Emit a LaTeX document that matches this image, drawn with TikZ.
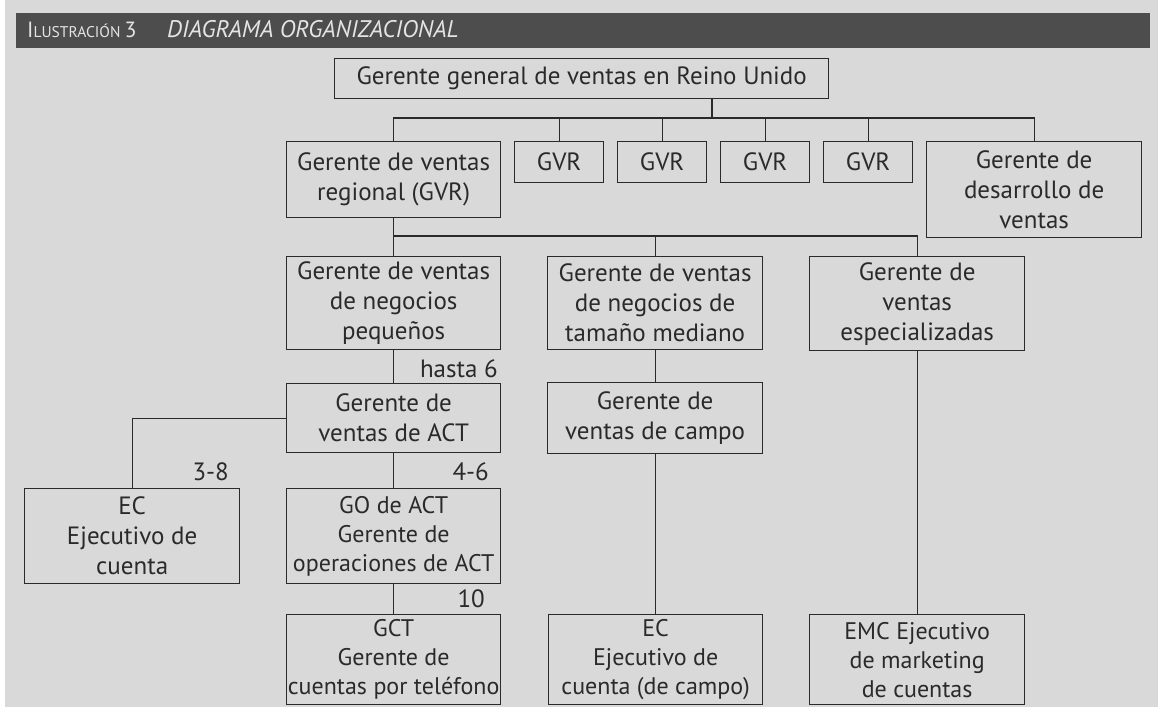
\documentclass[tikz,border=0pt]{standalone}
\usepackage{fontspec}
\setmainfont{PT Sans}
\definecolor{bg}{HTML}{D9D9D9}
\definecolor{bar}{HTML}{4D4D4D}
\definecolor{ink}{HTML}{2A2A2A}
\definecolor{barink}{HTML}{E4E4E4}
\tikzset{
  box/.style={draw=ink, line width=1.3pt, anchor=north west, inner sep=0pt,
    align=center, text=ink, font=\fontsize{25}{30}\selectfont},
  lowbox/.style={box, font=\fontsize{24}{29}\selectfont},
  conn/.style={draw=ink, line width=1.3pt},
  lbl/.style={anchor=base east, inner sep=0pt, text=ink, font=\fontsize{25}{30}\selectfont},
}
\begin{document}
\begin{tikzpicture}[x=1pt,y=-1pt]
\useasboundingbox (0,0) rectangle (1158,707);
\fill[white] (0,0) rectangle (1158,707);
\fill[bg] (5,0) rectangle (1158,707);
\fill[bar] (16,13) rectangle (1150,48);
\node[anchor=base west, inner sep=0pt, text=barink] (hdr) at (27,37)
  {\fontsize{22}{24}\selectfont I\fontsize{15.5}{20}\selectfont LUSTRACIÓN \fontsize{22}{24}\selectfont 3};
\node[anchor=base west, inner sep=0pt, text=barink] (hdr2) at (167,37)
  {\fontsize{24}{26}\selectfont\itshape DIAGRAMA ORGANIZACIONAL};

% level 0
\node[box, minimum width=494, minimum height=40] (top) at (334,58) {Gerente general de ventas en Reino Unido};
% level 1
\node[box, minimum width=214, minimum height=76] (gvrR) at (286,141) {Gerente de ventas\\regional (GVR)};
\node[box, minimum width=89, minimum height=41] (g1) at (514,141) {GVR};
\node[box, minimum width=89, minimum height=41] (g2) at (617,141) {GVR};
\node[box, minimum width=89, minimum height=41] (g3) at (720,141) {GVR};
\node[box, minimum width=89, minimum height=41] (g4) at (823,141) {GVR};
\node[box, minimum width=215, minimum height=96] (desa) at (926,141) {Gerente de\\desarrollo de\\ventas};
% level 2
\node[box, minimum width=214, minimum height=93] (small) at (286,256) {Gerente de ventas\\de negocios\\pequeños};
\node[box, minimum width=215, minimum height=93] (med) at (547,256) {Gerente de ventas\\de negocios de\\tamaño mediano};
\node[box, minimum width=215, minimum height=94] (esp) at (809,256) {Gerente de\\ventas\\especializadas};
% level 3
\node[box, minimum width=214, minimum height=69] (act) at (286,383) {Gerente de\\ventas de ACT};
\node[box, minimum width=215, minimum height=71] (campo) at (547,382) {Gerente de\\ventas de campo};
% level 4
\node[box, minimum width=215, minimum height=95] (ec) at (24,488) {EC\\Ejecutivo de\\cuenta};
\node[lowbox, minimum width=214, minimum height=95] (go) at (286,488) {GO de ACT\\Gerente de\\operaciones de ACT};
% level 5
\node[lowbox, minimum width=214, minimum height=90] (gct) at (286,614) {GCT\\Gerente de\\cuentas por teléfono};
\node[lowbox, minimum width=214, minimum height=90] (ecc) at (548,614) {EC\\Ejecutivo de\\cuenta (de campo)};
\node[lowbox, minimum width=215, minimum height=90] (emc) at (809,614) {EMC Ejecutivo\\de marketing\\de cuentas};

% junctions
\coordinate (j1) at (712,118);
\coordinate (j2) at (394,236);

% connectors level 0-1
\draw[conn] (top.south -| j1) -- (j1);
\draw[conn] (gvrR.north) -- (gvrR.north |- j1) -- (desa.north |- j1) -- (desa.north);
\foreach \n in {g1,g2,g3,g4} \draw[conn] (\n.north) -- (\n.north |- j1);
% level 1-2
\draw[conn] (gvrR.south) -- (gvrR.south |- j2) -- (esp.north |- j2) -- (esp.north);
\draw[conn] (small.north) -- (small.north |- j2);
\draw[conn] (med.north) -- (med.north |- j2);
% lower
\draw[conn] (small.south) -- (act.north);
\draw[conn] (act.west) -| (ec.north);
\draw[conn] (act.south) -- (go.north);
\draw[conn] (go.south) -- (go.south |- gct.north);
\draw[conn] (med.south) -- (campo.north);
\draw[conn] (campo.south) -- (campo.south |- ecc.north);
\draw[conn] (esp.south) -- (esp.south |- emc.north);

% labels
\node[lbl] (l1) at (498,377) {hasta 6};
\node[lbl] (l2) at (229,480) {3-8};
\node[lbl] (l3) at (489,480) {4-6};
\node[lbl] (l4) at (485,607) {10};
\end{tikzpicture}
\end{document}
